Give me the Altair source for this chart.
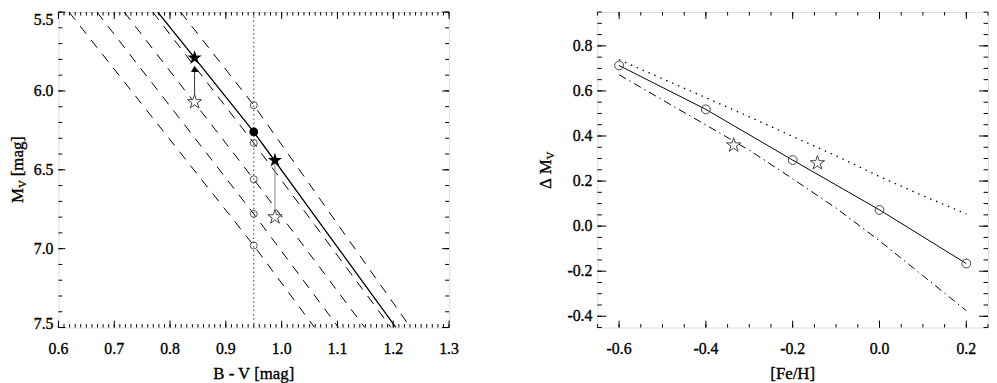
import numpy as np
import pandas as pd
import altair as alt

# ---------------- Left panel data (B-V vs M_V) ----------------
solid_bv = [0.778, 0.844, 0.95, 1.10, 1.205]
solid_mv = [5.50, 5.79, 6.26, 6.99, 7.50]

dash1_bv = [0.619, 0.95, 1.059]
dash1_mv = [5.50, 6.98, 7.50]
dash2_bv = [0.669, 0.95, 1.102]
dash2_mv = [5.50, 6.78, 7.50]
dash3_bv = [0.718, 0.95, 1.149]
dash3_mv = [5.50, 6.56, 7.50]
dash4_bv = [0.769, 0.95, 1.196]
dash4_mv = [5.50, 6.33, 7.50]
dash5_bv = [0.819, 0.95, 1.231]
dash5_mv = [5.50, 6.09, 7.50]

vline_bv = [0.95]
circ_bv = [0.95, 0.95, 0.95, 0.95, 0.95]
circ_mv = [6.09, 6.33, 6.56, 6.78, 6.98]
ref_bv = [0.95]
ref_mv = [6.26]
star_fill_bv = [0.844, 0.988]
star_fill_mv = [5.79, 6.44]
star_open_bv = [0.844, 0.988]
star_open_mv = [6.07, 6.80]
arrow_bv = [0.844]
arrow_mv = [5.86]

# ---------------- Right panel data ([Fe/H] vs Delta M_V) ----------------
feh = [-0.6, -0.4, -0.2, 0.0, 0.2]
dmv = [0.713, 0.518, 0.293, 0.072, -0.166]
star_feh = [-0.336, -0.143]
star_dmv = [0.359, 0.280]
dot_feh = [-0.6, -0.5, -0.4, -0.3, -0.2, -0.1, 0.0, 0.1, 0.2]
dot_dmv = [0.739, 0.654, 0.570, 0.485, 0.398, 0.312, 0.220, 0.135, 0.054]
dd_feh = [-0.6, -0.5, -0.4, -0.3, -0.2, -0.1, 0.0, 0.1, 0.2]
dd_dmv = [0.672, 0.560, 0.449, 0.337, 0.210, 0.080, -0.065, -0.220, -0.375]

# tick labels
x1_labels = [0.6, 0.7, 0.8, 0.9, 1.0, 1.1, 1.2, 1.3]
y1_labels = [5.5, 6.0, 6.5, 7.0, 7.5]
x2_labels = [-0.6, -0.4, -0.2, 0.0, 0.2]
y2_labels = [-0.4, -0.2, 0.0, 0.2, 0.4, 0.6, 0.8]

FONT = "Liberation Serif"
TXT = dict(font=FONT, color="black", stroke="black", strokeWidth=0.35)
W1, W2, H = 395, 395, 319
STAR = ("M0,-1L0.2245,-0.309L0.9511,-0.309L0.3633,0.118L0.5878,0.809L0,0.382"
        "L-0.5878,0.809L-0.3633,0.118L-0.9511,-0.309L-0.2245,-0.309Z")

xs1 = alt.Scale(domain=[0.6, 1.3], nice=False, zero=False)
ys1 = alt.Scale(domain=[5.5, 7.5], reverse=True, nice=False, zero=False)
xs2 = alt.Scale(domain=[-0.65, 0.25], nice=False, zero=False)
ys2 = alt.Scale(domain=[-0.45, 0.95], nice=False, zero=False)


def frame(xs, ys):
    return pd.DataFrame({"x": xs, "y": ys, "o": list(range(len(xs)))})


def X(sc):
    return alt.X("x:Q", scale=sc, axis=None)


def Y(sc):
    return alt.Y("y:Q", scale=sc, axis=None)


def line(xs, ys, xsc, ysc, **kw):
    return alt.Chart(frame(xs, ys)).mark_line(clip=True, **kw).encode(
        x=X(xsc), y=Y(ysc), order="o:Q")


def pts(xs, ys, xsc, ysc, **kw):
    return alt.Chart(frame(xs, ys)).mark_point(opacity=1, **kw).encode(
        x=X(xsc), y=Y(ysc))


def vrule(x, y1, y2, xsc, ysc, **kw):
    d = pd.DataFrame({"x": [x], "y": [y1], "y2": [y2]})
    return alt.Chart(d).mark_rule(**kw).encode(x=X(xsc), y=Y(ysc), y2="y2:Q")


def ticks(vals, channel, sc, side, length, W):
    vals = [float(v) for v in vals]
    base = alt.Chart(pd.DataFrame({channel: vals})).mark_rule(color="black", strokeWidth=1)
    if channel == "x":
        enc = dict(x=alt.X("x:Q", scale=sc, axis=None))
        if side == "bottom":
            enc.update(y=alt.value(H), y2=alt.value(H - length))
        else:
            enc.update(y=alt.value(0), y2=alt.value(length))
    else:
        enc = dict(y=alt.Y("y:Q", scale=sc, axis=None))
        if side == "left":
            enc.update(x=alt.value(0), x2=alt.value(length))
        else:
            enc.update(x=alt.value(W), x2=alt.value(W - length))
    return base.encode(**enc)


def fmt(v):
    return f"{v:.1f}"


def xlabels(vals, sc):
    d = pd.DataFrame({"x": vals, "t": [fmt(v) for v in vals]})
    return alt.Chart(d).mark_text(fontSize=16, baseline="alphabetic",
                                  align="center", **TXT).encode(
        x=X(sc), y=alt.value(H + 27), text="t:N")


def ylabels(vals, sc, baseline="middle", dy=0):
    d = pd.DataFrame({"y": vals, "t": [fmt(v) for v in vals]})
    return alt.Chart(d).mark_text(fontSize=16, baseline=baseline, dy=dy,
                                  align="right", **TXT).encode(
        y=Y(sc), x=alt.value(-5), text="t:N")


def text(t, x, y, size=17, angle=0, align="center"):
    return alt.Chart(pd.DataFrame({"t": [t]})).mark_text(
        text=t, fontSize=size, angle=angle, align=align,
        baseline="alphabetic", **TXT).encode(x=alt.value(x), y=alt.value(y))


def marker(x, y):
    return alt.Chart(pd.DataFrame({"t": [0]})).mark_point(
        opacity=0, size=1, strokeWidth=0).encode(x=alt.value(x), y=alt.value(y))


def rng(a, b, step):
    return list(np.round(np.arange(a, b + step / 2, step), 4))


# ---------------- Left panel ----------------
dash = [10, 8]
left_layers = [
    line(dash1_bv, dash1_mv, xs1, ys1, color="black", strokeWidth=1, strokeDash=dash),
    line(dash2_bv, dash2_mv, xs1, ys1, color="black", strokeWidth=1, strokeDash=dash),
    line(dash3_bv, dash3_mv, xs1, ys1, color="black", strokeWidth=1, strokeDash=dash),
    line(dash4_bv, dash4_mv, xs1, ys1, color="black", strokeWidth=1, strokeDash=dash),
    line(dash5_bv, dash5_mv, xs1, ys1, color="black", strokeWidth=1, strokeDash=dash),
    alt.Chart(pd.DataFrame({"x": vline_bv})).mark_rule(
        color="#666", strokeWidth=1.3, strokeDash=[1.5, 2.8]).encode(x=X(xs1)),
    line(solid_bv, solid_mv, xs1, ys1, color="black", strokeWidth=1.3),
    vrule(star_open_bv[0], star_open_mv[0], arrow_mv[0], xs1, ys1, color="#333", strokeWidth=1),
    vrule(star_fill_bv[1], star_fill_mv[1], star_open_mv[1], xs1, ys1, color="#888", strokeWidth=1),
    pts(arrow_bv, arrow_mv, xs1, ys1, shape="triangle-up", filled=True, color="black", size=55),
    pts(circ_bv, circ_mv, xs1, ys1, shape="circle", filled=False, color="#555", size=50, strokeWidth=1),
    pts(ref_bv, ref_mv, xs1, ys1, shape="circle", filled=True, color="black", size=80),
    pts(star_open_bv, star_open_mv, xs1, ys1, shape=STAR, filled=True, fill="white",
        stroke="#444", strokeWidth=1, size=230),
    pts(star_fill_bv, star_fill_mv, xs1, ys1, shape=STAR, filled=True, color="black", size=230),
    ticks(x1_labels, "x", xs1, "bottom", 7, W1),
    ticks(x1_labels, "x", xs1, "top", 7, W1),
    ticks(rng(0.6, 1.3, 0.01), "x", xs1, "bottom", 3.5, W1),
    ticks(rng(0.6, 1.3, 0.01), "x", xs1, "top", 3.5, W1),
    ticks(y1_labels, "y", ys1, "left", 7, W1),
    ticks(y1_labels, "y", ys1, "right", 7, W1),
    ticks(rng(5.5, 7.5, 0.1), "y", ys1, "left", 4, W1),
    ticks(rng(5.5, 7.5, 0.1), "y", ys1, "right", 4, W1),
    xlabels(x1_labels, xs1),
    ylabels(y1_labels[1:-1], ys1),
    ylabels(y1_labels[:1], ys1, baseline="top"),
    ylabels(y1_labels[-1:], ys1, baseline="alphabetic", dy=1),
    text("B - V [mag]", W1 / 2, H + 52),
    text("M", -36, 193, angle=270, align="left"),
    text("V", -33, 193 - 15, size=11, angle=270, align="left"),
    text("[mag]", -36, 193 - 15 - 8 - 4, angle=270, align="left"),
    marker(-47.5, H / 2),
    marker(W1 + 15, H / 2),
]
left = alt.layer(*left_layers).properties(width=W1, height=H)

# ---------------- Right panel ----------------
right_layers = [
    line(dot_feh, dot_dmv, xs2, ys2, color="black", strokeWidth=1.3, strokeDash=[1.5, 5]),
    line(dd_feh, dd_dmv, xs2, ys2, color="black", strokeWidth=1, strokeDash=[8, 4, 1.5, 4]),
    line(feh, dmv, xs2, ys2, color="black", strokeWidth=1),
    pts(feh, dmv, xs2, ys2, shape="circle", filled=False, color="#444", size=80, strokeWidth=1),
    pts(star_feh, star_dmv, xs2, ys2, shape=STAR, filled=True, fill="white",
        stroke="#444", strokeWidth=1, size=230),
    ticks(x2_labels, "x", xs2, "bottom", 7, W2),
    ticks(x2_labels, "x", xs2, "top", 7, W2),
    ticks(rng(-0.65, 0.25, 0.05), "x", xs2, "bottom", 3.5, W2),
    ticks(rng(-0.65, 0.25, 0.05), "x", xs2, "top", 3.5, W2),
    ticks(y2_labels, "y", ys2, "left", 9, W2),
    ticks(y2_labels, "y", ys2, "right", 9, W2),
    ticks(rng(-0.45, 0.95, 0.05), "y", ys2, "left", 4.5, W2),
    ticks(rng(-0.45, 0.95, 0.05), "y", ys2, "right", 4.5, W2),
    xlabels(x2_labels, xs2),
    ylabels(y2_labels, ys2),
    text("[Fe/H]", W2 / 2, H + 52),
    text("\u0394", -47, 179, angle=270, align="left"),
    text("M", -47, 179 - 11 - 4, angle=270, align="left"),
    text("V", -44, 179 - 15 - 15, size=11, angle=270, align="left"),
    marker(-70, H / 2),
]
right = alt.layer(*right_layers).properties(width=W2, height=H)

chart = alt.hconcat(left, right, spacing=63).properties(padding=0).configure_view(
    stroke="black", strokeWidth=1).configure(font=FONT)

chart.save("out.html", embed_options={"renderer": "svg", "actions": False})
